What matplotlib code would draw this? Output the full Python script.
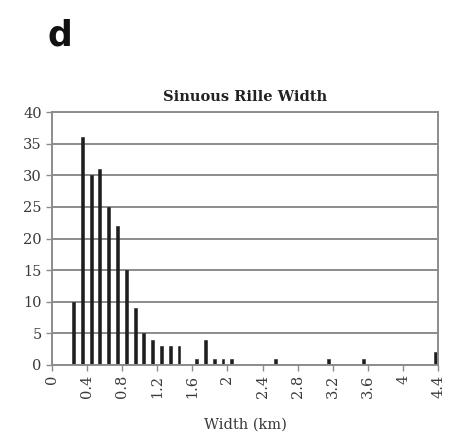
import matplotlib
matplotlib.use("Agg")
import matplotlib.pyplot as plt

# Histogram of sinuous rille widths (bin centres in km, counts)
bin_centers = [0.25, 0.35, 0.45, 0.55, 0.65, 0.75, 0.85, 0.95, 1.05, 1.15, 1.25, 1.35, 1.45,
               1.65, 1.75, 1.85, 1.95, 2.05, 2.55, 3.15, 3.55, 4.37]
counts = [10, 36, 30, 31, 25, 22, 15, 9, 5, 4, 3, 3, 3,
          1, 4, 1, 1, 1, 1, 1, 1, 2]

x_ticks = [0, 0.4, 0.8, 1.2, 1.6, 2.0, 2.4, 2.8, 3.2, 3.6, 4.0, 4.4]
x_tick_labels = ["0", "0.4", "0.8", "1.2", "1.6", "2", "2.4", "2.8", "3.2", "3.6", "4", "4.4"]
y_ticks = [0, 5, 10, 15, 20, 25, 30, 35, 40]

serif = ["DejaVu Serif"]
grid_col = "#8c8c8c"
text_col = "#3a3a3a"

fig = plt.figure(figsize=(4.52, 4.38), dpi=100)
ax = fig.add_axes([0.114, 0.1667, 0.856, 0.5773])

ax.set_axisbelow(True)
ax.yaxis.grid(True, color=grid_col, linewidth=1.4)
ax.bar(bin_centers, counts, width=0.033, color="#1e1e1e", edgecolor="#1e1e1e", linewidth=0.4)

ax.set_xlim(0, 4.4)
ax.set_ylim(0, 40)
ax.set_xticks(x_ticks)
ax.set_xticklabels(x_tick_labels, rotation=90, family=serif, fontsize=10.5, color=text_col)
ax.set_yticks(y_ticks)
ax.set_yticklabels([str(v) for v in y_ticks], family=serif, fontsize=10.5, color=text_col)
ax.tick_params(axis="both", direction="out", length=4, width=1, color=grid_col, pad=3)

for side in ["left", "right", "top", "bottom"]:
    ax.spines[side].set_color(grid_col)
    ax.spines[side].set_linewidth(1.4)

ax.set_title("Sinuous Rille Width", family=serif, fontweight="bold", fontsize=10.5,
             color="#222222", pad=8)
ax.set_xlabel("Width (km)", family=serif, fontsize=10.5, color=text_col, labelpad=14)

fig.text(0.105, 0.897, "d", family="DejaVu Sans", fontweight="bold", fontsize=25,
         color="#111111", ha="left", va="baseline")

fig.savefig("out.png", dpi=100, facecolor="white")
